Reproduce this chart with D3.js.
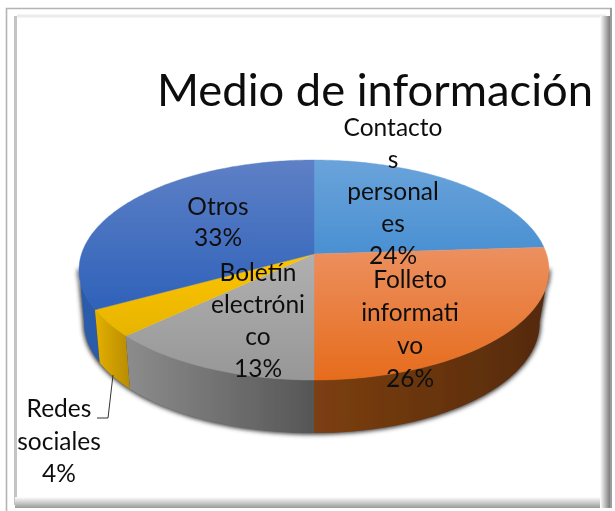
<!DOCTYPE html>
<html><head><meta charset="utf-8"><script src="https://cdn.jsdelivr.net/npm/d3@7"></script>
<style>html,body{margin:0;padding:0;background:#fff}svg{display:block}text{font-family:Lato,"Open Sans",sans-serif;fill:#111}</style>
</head><body><svg id="c" width="615" height="511"></svg>
<script>
const title = "Medio de información";
const categories = ["Contactos personales","Folleto informativo","Boletín electrónico","Redes sociales","Otros"];
const values = [24,26,13,4,33];
const labelLines = [["Contacto","s","personal","es","24%"],["Folleto","informati","vo","26%"],["Boletín","electróni","co","13%"],["Redes","sociales","4%"],["Otros","33%"]];
const topColors = [["#6aa3da","#4a90d2"],["#ec9060","#e66c1c"],["#b0b0b0","#979797"],["#ffc400","#e6b400"],["#5e80c6","#2f62ba"]];
const sideColors = [["#2f6aa8","#2f6aa8"],["#7c3f12","#552a0c"],["#8c8c8c","#565656"],["#e4b000","#b88c00"],["#2c5cae","#2a5aa8"]];
// layout
const cx=314, cy=254, bx=232.5, ay=107.7, k=0.1455, depth=53;
const labelAnchor=[[393,136,32],[410,288,33],[258,281,32],[59,417,32.5],[218,215,31]];

const svg=d3.select("#c"), defs=svg.append("defs");
const soft=defs.append("filter").attr("id","soft").attr("x","-5%").attr("y","-5%").attr("width","110%").attr("height","110%");
soft.append("feGaussianBlur").attr("stdDeviation",0.55);
const sh=defs.append("filter").attr("id","sh").attr("x","-10%").attr("y","-10%").attr("width","120%").attr("height","120%");
sh.append("feGaussianBlur").attr("stdDeviation",2);
function grad(id,c,vert){const g=defs.append("linearGradient").attr("id",id).attr("x1",0).attr("y1",0).attr("x2",vert?0:1).attr("y2",vert?1:0);
  g.append("stop").attr("offset",0).attr("stop-color",c[0]);g.append("stop").attr("offset",1).attr("stop-color",c[1]);}
topColors.forEach((c,i)=>grad("t"+i,c,true));
sideColors.forEach((c,i)=>grad("s"+i,c,false));
grad("fr",["#ffffff","#7c7c7c"],false);
grad("fb",["#ffffff","#9a9a9a"],true);

// frame
const root=svg.append("g").attr("filter","url(#soft)");
const line=d3.line();
root.append("path").attr("d",line([[6.5,511],[6.5,8.5],[612,8.5]])).attr("fill","none").attr("stroke","#b4b4b4").attr("stroke-width",1.6);
root.append("path").attr("d",line([[17,16],[606,16]])).attr("fill","none").attr("stroke","#ececec").attr("stroke-width",3);
root.append("path").attr("d",line([[15.5,505],[15.5,16]])).attr("fill","none").attr("stroke","#c4c4c4").attr("stroke-width",3);
root.append("rect").attr("x",15).attr("y",497).attr("width",595).attr("height",11).attr("fill","url(#fb)");
root.append("rect").attr("x",600).attr("y",16).attr("width",10).attr("height",492).attr("fill","url(#fr)");
root.append("rect").attr("x",610).attr("y",8).attr("width",2).attr("height",500).attr("fill","#9c9c9c");

// perspective projection of the pie disc; the lower disc is a little narrower
function proj(a){const u=Math.sin(a),v=-Math.cos(a),d=1-k*v;return [cx+bx*u/d,cy+ay*v/d];}
function low(p){const s=p[0]>cx?0.96:0.978;return [cx+(p[0]-cx)*s,p[1]+depth];}
function samples(a0,a1){const n=Math.max(2,Math.ceil((a1-a0)/0.015));return d3.range(n+1).map(i=>proj(a0+(a1-a0)*i/n));}
const arcs=d3.pie().sort(null)(values);

// drop shadow around the rim
const front0=Math.PI/2+0.14, front1=3*Math.PI/2-0.14;
const rimT=samples(front0,front1), rimB=rimT.map(low).reverse();
root.append("path").attr("d",line(rimT.concat(rimB))+"Z").attr("fill","#3a3a3a").attr("stroke","#3a3a3a").attr("stroke-width",3).attr("filter","url(#sh)");

// side faces
const side=root.append("g");
[4,3,2,1,0].forEach(i=>{const s=arcs[i];
  const a0=Math.max(s.startAngle,front0), a1=Math.min(s.endAngle,front1);
  if(a1<=a0) return;
  const t=samples(a0,a1), b=t.map(low).reverse();
  side.append("path").attr("d",line(t.concat(b))+"Z").attr("fill",`url(#s${i})`);
});
// top faces
const tops=root.append("g");
arcs.forEach((s,i)=>{
  const pts=[[cx,cy]].concat(samples(s.startAngle,s.endAngle));
  tops.append("path").attr("d",line(pts)+"Z").attr("fill",`url(#t${i})`).attr("stroke",`url(#t${i})`).attr("stroke-width",0.4);
});
// title
root.append("text").attr("x",375).attr("y",106).attr("text-anchor","middle").attr("font-size",45.3).style("fill","#0a0a0a").text(title);
// leader
root.append("path").attr("d",line([[113,375],[108,418],[97,418]])).attr("fill","none").attr("stroke","#333").attr("stroke-width",1);
// labels
labelLines.forEach((ls,i)=>{const [x,y,dy]=labelAnchor[i];
  ls.forEach((t,j)=>root.append("text").attr("x",x).attr("y",y+j*dy).attr("text-anchor","middle").attr("font-size",24.5).text(t));
});
</script></body></html>
